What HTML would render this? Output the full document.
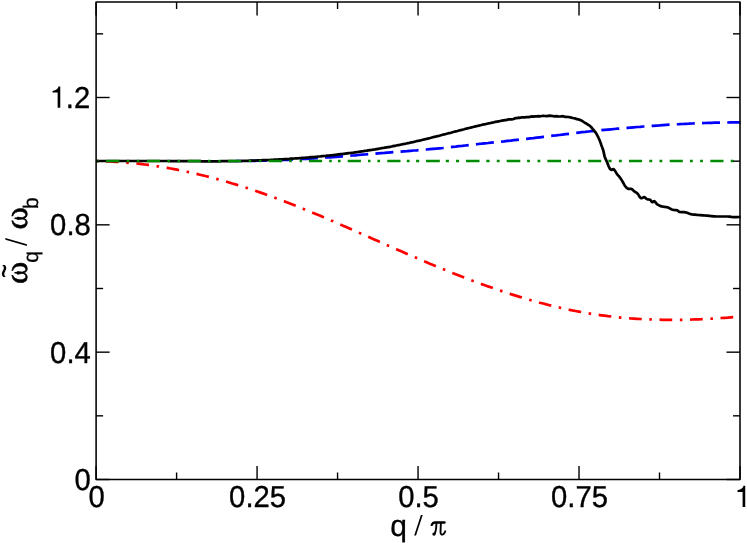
<!DOCTYPE html>
<html><head><meta charset="utf-8"><title>chart</title>
<style>
html,body{margin:0;padding:0;background:#fff;}
svg{display:block;will-change:transform;}
text{font-family:"Liberation Sans",sans-serif;font-size:30px;fill:#000;text-rendering:geometricPrecision;}
.sym{font-family:"Liberation Serif",serif;}
</style></head><body>
<svg width="747" height="543" viewBox="0 0 747 543">
<rect width="747" height="543" fill="#fff"/>
<defs><clipPath id="cb"><rect x="236" y="0" width="520" height="543"/></clipPath></defs>
<g fill="none" stroke-linejoin="round">
<path d="M96.3 161.2 L99.5 161.2 L102.8 161.3 L106.0 161.4 L109.3 161.5 L112.5 161.6 L115.7 161.8 L119.0 162.0 L122.2 162.2 L125.4 162.5 L128.7 162.8 L131.9 163.1 L135.2 163.4 L138.4 163.7 L141.6 164.1 L144.9 164.5 L148.1 164.9 L151.3 165.4 L154.6 165.8 L157.8 166.3 L161.1 166.8 L164.3 167.4 L167.5 167.9 L170.8 168.5 L174.0 169.1 L177.3 169.7 L180.5 170.4 L183.7 171.0 L187.0 171.7 L190.2 172.4 L193.4 173.1 L196.7 173.9 L199.9 174.7 L203.2 175.5 L206.4 176.3 L209.6 177.1 L212.9 177.9 L216.1 178.8 L219.4 179.7 L222.6 180.6 L225.8 181.5 L229.1 182.5 L232.3 183.5 L235.5 184.4 L238.8 185.4 L242.0 186.5 L245.3 187.5 L248.5 188.5 L251.7 189.6 L255.0 190.7 L258.2 191.8 L261.4 192.9 L264.7 194.1 L267.9 195.2 L271.2 196.4 L274.4 197.6 L277.6 198.8 L280.9 200.0 L284.1 201.2 L287.4 202.5 L290.6 203.7 L293.8 205.0 L297.1 206.3 L300.3 207.6 L303.5 208.9 L306.8 210.2 L310.0 211.6 L313.3 212.9 L316.5 214.3 L319.7 215.6 L323.0 217.0 L326.2 218.4 L329.4 219.8 L332.7 221.1 L335.9 222.5 L339.2 223.9 L342.4 225.4 L345.6 226.8 L348.9 228.2 L352.1 229.6 L355.4 231.0 L358.6 232.5 L361.8 233.9 L365.1 235.3 L368.3 236.8 L371.5 238.2 L374.8 239.7 L378.0 241.1 L381.3 242.5 L384.5 244.0 L387.7 245.4 L391.0 246.8 L394.2 248.3 L397.5 249.7 L400.7 251.1 L403.9 252.5 L407.2 253.9 L410.4 255.3 L413.6 256.7 L416.9 258.1 L420.1 259.5 L423.4 260.9 L426.6 262.3 L429.8 263.7 L433.1 265.0 L436.3 266.4 L439.5 267.7 L442.8 269.0 L446.0 270.3 L449.3 271.6 L452.5 272.9 L455.7 274.2 L459.0 275.5 L462.2 276.8 L465.5 278.0 L468.7 279.3 L471.9 280.5 L475.2 281.7 L478.4 282.9 L481.6 284.1 L484.9 285.2 L488.1 286.4 L491.4 287.5 L494.6 288.7 L497.8 289.8 L501.1 290.9 L504.3 292.0 L507.6 293.0 L510.8 294.1 L514.0 295.1 L517.3 296.1 L520.5 297.1 L523.7 298.1 L527.0 299.0 L530.2 300.0 L533.5 300.9 L536.7 301.8 L539.9 302.7 L543.2 303.5 L546.4 304.4 L549.6 305.2 L552.9 306.0 L556.1 306.8 L559.4 307.5 L562.6 308.3 L565.8 309.0 L569.1 309.7 L572.3 310.4 L575.6 311.0 L578.8 311.6 L582.0 312.2 L585.3 312.8 L588.5 313.4 L591.7 313.9 L595.0 314.4 L598.2 314.9 L601.5 315.3 L604.7 315.7 L607.9 316.2 L611.2 316.5 L614.4 316.9 L617.6 317.2 L620.9 317.6 L624.1 317.8 L627.4 318.1 L630.6 318.4 L633.8 318.6 L637.1 318.8 L640.3 319.0 L643.6 319.2 L646.8 319.3 L650.0 319.4 L653.3 319.6 L656.5 319.7 L659.7 319.7 L663.0 319.8 L666.2 319.8 L669.5 319.8 L672.7 319.8 L675.9 319.8 L679.2 319.8 L682.4 319.8 L685.7 319.7 L688.9 319.6 L692.1 319.5 L695.4 319.4 L698.6 319.3 L701.8 319.2 L705.1 319.0 L708.3 318.8 L711.6 318.7 L714.8 318.5 L718.0 318.3 L721.3 318.0 L724.5 317.8 L727.7 317.6 L731.0 317.3 L734.2 317.1 L737.5 316.8 L740.7 316.5" stroke="#ff0000" stroke-width="2.7" stroke-dasharray="2.544 7.632 12.72 7.632" stroke-dashoffset="0.54"/>
<path d="M96.3 161.0 L99.5 161.0 L102.8 161.0 L106.0 161.0 L109.3 161.0 L112.5 161.0 L115.7 161.0 L119.0 161.0 L122.2 161.0 L125.4 161.0 L128.7 161.0 L131.9 161.0 L135.2 161.0 L138.4 161.0 L141.6 161.0 L144.9 161.0 L148.1 161.0 L151.3 161.0 L154.6 161.0 L157.8 161.0 L161.1 161.0 L164.3 161.0 L167.5 161.0 L170.8 161.0 L174.0 161.0 L177.2 161.0 L180.5 161.0 L183.7 161.0 L187.0 161.0 L190.2 161.0 L193.4 161.0 L196.7 161.0 L199.9 161.0 L203.1 161.0 L206.4 161.0 L209.6 161.0 L212.9 161.0 L216.1 161.1 L219.3 161.1 L222.6 161.1 L225.8 161.0 L229.0 161.0 L232.3 161.0 L235.5 161.0 L238.8 161.0 L242.0 161.0 L245.2 160.9 L248.5 160.9 L251.7 160.8 L254.9 160.8 L258.2 160.7 L261.4 160.7 L264.7 160.6 L267.9 160.5 L271.1 160.4 L274.4 160.3 L277.6 160.2 L280.8 160.1 L284.1 159.9 L287.3 159.8 L290.6 159.7 L293.8 159.5 L297.0 159.3 L300.3 159.2 L303.5 159.0 L306.7 158.8 L310.0 158.6 L313.2 158.4 L316.5 158.2 L319.7 158.0 L322.9 157.8 L326.2 157.5 L329.4 157.3 L332.7 157.1 L335.9 156.8 L339.1 156.6 L342.4 156.3 L345.6 156.0 L348.8 155.8 L352.1 155.5 L355.3 155.3 L358.6 155.0 L361.8 154.7 L365.0 154.5 L368.3 154.2 L371.5 153.9 L374.7 153.7 L378.0 153.4 L381.2 153.1 L384.5 152.9 L387.7 152.6 L390.9 152.3 L394.2 152.1 L397.4 151.8 L400.6 151.6 L403.9 151.3 L407.1 151.1 L410.4 150.8 L413.6 150.5 L416.8 150.3 L420.1 150.0 L423.3 149.7 L426.5 149.5 L429.8 149.2 L433.0 148.9 L436.3 148.6 L439.5 148.3 L442.7 148.0 L446.0 147.6 L449.2 147.3 L452.4 146.9 L455.7 146.6 L458.9 146.2 L462.2 145.9 L465.4 145.5 L468.6 145.1 L471.9 144.7 L475.1 144.4 L478.3 144.0 L481.6 143.7 L484.8 143.3 L488.1 143.0 L491.3 142.6 L494.5 142.3 L497.8 142.0 L501.0 141.6 L504.2 141.3 L507.5 140.9 L510.7 140.6 L514.0 140.2 L517.2 139.8 L520.4 139.5 L523.7 139.1 L526.9 138.8 L530.2 138.4 L533.4 138.1 L536.6 137.7 L539.9 137.3 L543.1 136.9 L546.3 136.5 L549.6 136.1 L552.8 135.7 L556.1 135.4 L559.3 135.0 L562.5 134.6 L565.8 134.2 L569.0 133.8 L572.2 133.4 L575.5 133.0 L578.7 132.6 L582.0 132.2 L585.2 131.9 L588.4 131.5 L591.7 131.2 L594.9 130.9 L598.1 130.5 L601.4 130.2 L604.6 129.9 L607.9 129.6 L611.1 129.3 L614.3 129.0 L617.6 128.7 L620.8 128.4 L624.0 128.1 L627.3 127.9 L630.5 127.6 L633.8 127.3 L637.0 127.0 L640.2 126.8 L643.5 126.5 L646.7 126.3 L649.9 126.0 L653.2 125.8 L656.4 125.6 L659.7 125.4 L662.9 125.1 L666.1 124.9 L669.4 124.7 L672.6 124.5 L675.8 124.3 L679.1 124.2 L682.3 124.0 L685.6 123.8 L688.8 123.7 L692.0 123.5 L695.3 123.4 L698.5 123.2 L701.7 123.1 L705.0 123.0 L708.2 122.9 L711.5 122.8 L714.7 122.7 L717.9 122.6 L721.2 122.6 L724.4 122.5 L727.6 122.5 L730.9 122.4 L734.1 122.4 L737.4 122.4 L740.6 122.4" stroke="#0000ff" stroke-width="2.7" clip-path="url(#cb)" stroke-dasharray="18.0 7.24" stroke-dashoffset="23.5"/>
<path d="M96.3 161.0 L97.9 161.0 L99.6 161.0 L101.2 161.0 L102.9 161.0 L104.5 161.0 L106.2 161.0 L107.8 161.0 L109.5 161.0 L111.1 161.0 L112.8 161.0 L114.4 161.0 L116.1 161.0 L117.7 161.0 L119.4 161.0 L121.0 161.0 L122.7 161.0 L124.3 161.0 L126.0 161.0 L127.6 161.0 L129.3 161.0 L130.9 161.0 L132.6 161.0 L134.2 161.0 L135.9 161.0 L137.5 161.0 L139.2 161.0 L140.8 161.0 L142.5 161.0 L144.1 161.0 L145.8 161.0 L147.4 161.0 L149.1 161.0 L150.7 161.0 L152.4 161.0 L154.0 161.0 L155.7 161.0 L157.3 161.0 L159.0 161.0 L160.6 161.0 L162.3 161.0 L163.9 161.0 L165.6 161.0 L167.2 161.0 L168.9 161.1 L170.5 161.1 L172.2 161.1 L173.8 161.1 L175.5 161.1 L177.1 161.1 L178.8 161.1 L180.4 161.1 L182.1 161.1 L183.7 161.2 L185.4 161.2 L187.0 161.2 L188.7 161.2 L190.3 161.2 L192.0 161.2 L193.6 161.2 L195.2 161.2 L196.9 161.2 L198.5 161.2 L200.2 161.2 L201.8 161.3 L203.5 161.3 L205.1 161.3 L206.8 161.3 L208.4 161.3 L210.1 161.3 L211.7 161.3 L213.4 161.3 L215.0 161.3 L216.7 161.3 L218.3 161.3 L220.0 161.3 L221.6 161.2 L223.3 161.2 L224.9 161.2 L226.6 161.2 L228.2 161.2 L229.9 161.2 L231.5 161.1 L233.2 161.1 L234.8 161.1 L236.5 161.1 L238.1 161.0 L239.8 161.0 L241.4 161.0 L243.1 160.9 L244.7 160.9 L246.4 160.8 L248.0 160.8 L249.7 160.7 L251.3 160.7 L253.0 160.6 L254.6 160.6 L256.3 160.5 L257.9 160.4 L259.6 160.4 L261.2 160.3 L262.9 160.2 L264.5 160.2 L266.2 160.1 L267.8 160.0 L269.5 160.0 L271.1 159.9 L272.8 159.8 L274.4 159.7 L276.1 159.6 L277.7 159.5 L279.4 159.4 L281.0 159.4 L282.7 159.3 L284.3 159.2 L286.0 159.1 L287.6 159.0 L289.3 158.9 L290.9 158.7 L292.6 158.6 L294.2 158.5 L295.8 158.4 L297.5 158.3 L299.1 158.2 L300.8 158.0 L302.4 157.9 L304.1 157.8 L305.7 157.7 L307.4 157.5 L309.0 157.4 L310.7 157.2 L312.3 157.1 L314.0 157.0 L315.6 156.8 L317.3 156.7 L318.9 156.5 L320.6 156.4 L322.2 156.2 L323.9 156.0 L325.5 155.9 L327.2 155.7 L328.8 155.5 L330.5 155.3 L332.1 155.2 L333.8 155.0 L335.4 154.8 L337.1 154.6 L338.7 154.4 L340.4 154.2 L342.0 154.0 L343.7 153.8 L345.3 153.6 L347.0 153.4 L348.6 153.2 L350.3 153.0 L351.9 152.8 L353.6 152.6 L355.2 152.3 L356.9 152.1 L358.5 151.9 L360.2 151.6 L361.8 151.4 L363.5 151.2 L365.1 150.9 L366.8 150.7 L368.4 150.4 L370.1 150.1 L371.7 149.9 L373.4 149.6 L375.0 149.4 L376.7 149.1 L378.3 148.8 L380.0 148.5 L381.6 148.2 L383.3 148.0 L384.9 147.7 L386.6 147.4 L388.2 147.1 L389.9 146.8 L391.5 146.5 L393.1 146.1 L394.8 145.8 L396.4 145.5 L398.1 145.2 L399.7 144.9 L401.4 144.5 L403.0 144.2 L404.7 143.8 L406.3 143.5 L408.0 143.1 L409.6 142.8 L411.3 142.4 L412.9 142.1 L414.6 141.7 L416.2 141.3 L417.9 140.9 L419.5 140.6 L421.2 140.2 L422.8 139.8 L424.5 139.4 L426.1 139.0 L427.8 138.6 L429.4 138.2 L431.1 137.8 L432.7 137.3 L434.4 136.9 L436.0 136.5 L437.7 136.1 L439.3 135.7 L441.0 135.2 L442.6 134.8 L444.3 134.4 L445.9 134.0 L447.6 133.5 L449.2 133.1 L450.9 132.7 L452.5 132.2 L454.2 131.8 L455.8 131.4 L457.5 131.0 L459.1 130.5 L460.8 130.1 L462.4 129.7 L464.1 129.3 L465.7 128.8 L467.4 128.4 L469.0 128.0 L470.7 127.6 L472.3 127.2 L474.0 126.8 L475.6 126.4 L477.3 126.0 L478.9 125.6 L480.6 125.2 L482.2 124.8 L483.9 124.4 L485.5 124.1 L487.2 123.7 L488.8 123.3 L490.5 123.0 L492.1 122.6 L493.7 122.3 L495.4 121.9 L497.0 121.6 L498.7 121.3 L500.3 121.0 L502.0 120.7 L503.6 120.4 L505.3 120.1 L506.9 119.9 L508.6 119.4 L510.2 119.3 L511.9 119.3 L513.5 119.0 L515.2 118.2 L516.8 118.1 L518.5 117.7 L520.1 117.8 L521.8 117.3 L523.4 117.4 L525.1 117.4 L526.7 117.0 L528.4 117.1 L530.0 116.9 L531.7 116.3 L533.3 116.6 L535.0 116.3 L536.6 116.3 L538.3 116.1 L539.9 116.3 L541.6 116.0 L543.2 115.8 L544.9 116.0 L546.5 116.1 L548.2 115.8 L549.8 115.7 L551.5 115.8 L553.1 116.2 L554.8 116.3 L556.4 116.2 L558.1 116.4 L559.7 116.5 L561.4 116.3 L563.0 116.2 L564.7 116.8 L566.3 116.9 L568.0 117.0 L569.6 117.2 L571.3 117.6 L572.9 118.0 L574.6 118.3 L575.2 118.4 L575.8 118.7 L576.5 119.2 L577.1 119.2 L577.8 119.2 L578.5 119.4 L579.1 119.7 L579.8 119.8 L580.4 120.0 L581.1 120.5 L581.7 120.5 L582.4 121.1 L583.0 121.4 L583.7 122.0 L584.3 122.4 L585.0 122.8 L585.6 123.2 L586.3 123.4 L587.0 124.1 L587.6 124.3 L588.3 124.8 L588.9 125.2 L589.6 125.7 L590.2 126.2 L590.9 126.8 L591.5 127.5 L592.2 128.3 L592.8 129.1 L593.5 129.8 L594.1 130.6 L594.8 131.5 L595.5 132.3 L596.1 133.3 L596.8 134.4 L597.4 135.6 L598.1 136.9 L598.7 138.3 L599.4 139.8 L600.0 141.4 L600.7 143.1 L601.3 145.0 L602.0 146.9 L602.6 148.6 L603.3 150.4 L604.0 153.6 L604.6 156.4 L605.3 158.2 L605.9 159.7 L606.6 161.1 L607.2 162.5 L607.9 164.3 L608.5 166.0 L609.2 167.4 L609.8 168.6 L610.5 169.4 L611.1 169.7 L611.8 169.8 L612.5 169.4 L613.1 169.0 L613.8 169.3 L614.4 170.0 L615.1 170.8 L615.7 171.9 L616.4 173.1 L617.0 174.1 L617.7 174.9 L618.3 175.6 L619.0 176.3 L619.6 177.1 L620.3 178.0 L620.9 178.9 L621.6 179.9 L622.3 181.1 L622.9 182.3 L623.6 183.5 L624.2 184.6 L624.9 185.7 L625.5 186.6 L626.2 187.3 L626.8 188.0 L627.5 188.5 L628.1 188.8 L628.8 188.8 L629.4 188.8 L630.1 188.8 L630.8 188.8 L631.4 188.9 L632.1 189.2 L632.7 189.9 L633.4 190.5 L634.0 191.1 L634.7 191.6 L635.3 192.0 L636.0 192.4 L636.6 192.8 L637.3 193.3 L637.9 194.1 L638.6 195.1 L639.3 196.2 L639.9 197.2 L640.6 197.9 L641.2 198.2 L641.9 198.1 L642.5 197.8 L643.2 197.5 L643.8 197.2 L644.5 197.2 L645.1 197.6 L645.8 198.2 L646.4 198.8 L647.1 199.2 L647.8 199.3 L648.4 199.4 L649.1 199.5 L649.7 199.7 L650.4 199.9 L651.0 200.8 L651.7 201.8 L652.3 202.2 L653.0 201.9 L653.6 201.4 L654.3 201.2 L654.9 201.6 L655.6 202.4 L656.3 203.3 L656.9 204.1 L657.6 204.5 L658.2 204.9 L658.9 205.3 L659.5 205.6 L660.2 205.9 L660.8 206.2 L661.5 206.3 L662.1 206.5 L662.8 206.6 L663.4 206.7 L664.1 206.8 L664.8 206.9 L665.4 207.0 L666.1 207.1 L666.7 207.2 L667.4 207.3 L668.0 207.5 L668.7 207.8 L669.3 208.1 L670.0 208.5 L670.6 208.8 L671.3 209.2 L671.9 209.5 L672.6 209.7 L673.3 209.9 L673.9 210.0 L674.6 210.0 L675.2 210.1 L675.9 210.1 L676.5 210.2 L677.2 210.3 L677.8 210.6 L678.5 211.3 L679.1 211.9 L679.8 212.0 L680.4 212.0 L681.1 212.1 L681.8 212.1 L682.4 212.1 L683.1 212.1 L683.7 212.2 L684.4 212.2 L685.0 212.3 L685.7 212.3 L686.3 212.5 L687.0 212.7 L687.6 212.9 L688.3 213.2 L688.9 213.5 L689.6 213.8 L690.3 214.0 L690.9 214.2 L691.6 214.3 L692.2 214.4 L692.9 214.5 L693.5 214.6 L694.2 214.6 L694.8 214.7 L695.5 214.7 L696.1 214.8 L696.8 214.8 L697.4 214.9 L698.1 215.0 L698.8 215.0 L699.4 215.1 L700.1 215.1 L700.7 215.2 L701.4 215.2 L702.0 215.3 L702.7 215.3 L703.3 215.4 L704.0 215.4 L704.6 215.5 L705.3 215.5 L705.9 215.6 L706.6 215.6 L707.3 215.7 L707.9 215.7 L708.6 215.8 L709.2 215.9 L709.9 215.9 L710.5 216.0 L711.2 216.1 L711.8 216.1 L712.5 216.2 L713.1 216.3 L713.8 216.3 L714.4 216.4 L715.1 216.4 L715.8 216.5 L716.4 216.5 L717.1 216.5 L717.7 216.5 L718.4 216.5 L719.0 216.5 L719.7 216.5 L720.3 216.5 L721.0 216.5 L721.6 216.5 L722.3 216.5 L722.9 216.5 L723.6 216.5 L724.3 216.5 L724.9 216.5 L725.6 216.5 L726.2 216.5 L726.9 216.5 L727.5 216.5 L728.2 216.5 L728.8 216.6 L729.5 216.7 L730.1 216.7 L730.8 216.8 L731.4 216.9 L732.1 217.0 L732.8 217.1 L733.4 217.1 L734.1 217.1 L734.7 217.1 L735.4 217.1 L736.0 217.1 L736.7 217.1 L737.3 217.1 L738.0 217.0 L738.6 217.0 L739.3 217.0 L739.9 217.0 L740.6 216.9" stroke="#000" stroke-width="2.7"/>
<path d="M96.40 161.00H98.90M106.00 161.00H119.30M126.70 161.00H129.30M136.80 161.00H139.30M146.70 161.00H160.00M167.40 161.00H170.00M177.50 161.00H180.00M187.65 161.00H200.90M208.00 161.00H210.50M218.20 161.00H220.70M227.80 161.00H241.10M248.70 161.00H251.20M259.10 161.00H261.40M268.70 161.00H282.00M289.30 161.00H291.80M299.60 161.00H301.90M308.90 161.00H322.10M329.20 161.00H331.80M338.00 161.00H340.60M347.70 161.00H360.90M368.00 161.00H370.50M377.40 161.00H380.00M387.30 161.00H400.50M406.80 161.00H409.60M416.10 161.00H419.20M426.00 161.00H439.80M445.80 161.00H448.90M456.00 161.00H459.10M466.00 161.00H479.50M486.30 161.00H489.60M496.80 161.00H499.60M506.70 161.00H520.30M527.10 161.00H529.90M537.50 161.00H540.30M547.40 161.00H561.00M568.00 161.00H570.80M578.10 161.00H580.90M588.20 161.00H601.20M608.40 161.00H611.60M618.90 161.00H621.80M629.00 161.00H642.10M649.30 161.00H652.20M659.50 161.00H662.30M669.70 161.00H682.80M690.00 161.00H692.80M700.10 161.00H702.90M710.30 161.00H723.50M730.70 161.00H733.50" stroke="#008b00" stroke-width="2.6"/>
</g>
<g stroke="#000" stroke-width="1.4"><line x1="96.10" y1="479.50" x2="96.10" y2="466.00"/><line x1="96.10" y1="2.00" x2="96.10" y2="15.50"/><line x1="176.59" y1="479.50" x2="176.59" y2="472.50"/><line x1="176.59" y1="2.00" x2="176.59" y2="9.00"/><line x1="257.07" y1="479.50" x2="257.07" y2="466.00"/><line x1="257.07" y1="2.00" x2="257.07" y2="15.50"/><line x1="337.56" y1="479.50" x2="337.56" y2="472.50"/><line x1="337.56" y1="2.00" x2="337.56" y2="9.00"/><line x1="418.05" y1="479.50" x2="418.05" y2="466.00"/><line x1="418.05" y1="2.00" x2="418.05" y2="15.50"/><line x1="498.54" y1="479.50" x2="498.54" y2="472.50"/><line x1="498.54" y1="2.00" x2="498.54" y2="9.00"/><line x1="579.02" y1="479.50" x2="579.02" y2="466.00"/><line x1="579.02" y1="2.00" x2="579.02" y2="15.50"/><line x1="659.51" y1="479.50" x2="659.51" y2="472.50"/><line x1="659.51" y1="2.00" x2="659.51" y2="9.00"/><line x1="740.00" y1="479.50" x2="740.00" y2="466.00"/><line x1="740.00" y1="2.00" x2="740.00" y2="15.50"/><line x1="96.10" y1="479.50" x2="109.60" y2="479.50"/><line x1="740.00" y1="479.50" x2="726.50" y2="479.50"/><line x1="96.10" y1="415.83" x2="103.10" y2="415.83"/><line x1="740.00" y1="415.83" x2="733.00" y2="415.83"/><line x1="96.10" y1="352.17" x2="109.60" y2="352.17"/><line x1="740.00" y1="352.17" x2="726.50" y2="352.17"/><line x1="96.10" y1="288.50" x2="103.10" y2="288.50"/><line x1="740.00" y1="288.50" x2="733.00" y2="288.50"/><line x1="96.10" y1="224.83" x2="109.60" y2="224.83"/><line x1="740.00" y1="224.83" x2="726.50" y2="224.83"/><line x1="96.10" y1="161.17" x2="103.10" y2="161.17"/><line x1="740.00" y1="161.17" x2="733.00" y2="161.17"/><line x1="96.10" y1="97.50" x2="109.60" y2="97.50"/><line x1="740.00" y1="97.50" x2="726.50" y2="97.50"/><line x1="96.10" y1="33.83" x2="103.10" y2="33.83"/><line x1="740.00" y1="33.83" x2="733.00" y2="33.83"/></g>
<rect x="96.1" y="2.0" width="643.90" height="477.50" fill="none" stroke="#000" stroke-width="1.55" stroke-linejoin="round"/>
<g stroke="#000" stroke-width="0.35"><text transform="translate(96.60,507.30) scale(0.975,1.010)" text-anchor="middle">0</text><text transform="translate(257.57,507.30) scale(0.975,1.010)" text-anchor="middle">0.25</text><text transform="translate(418.55,507.30) scale(0.975,1.010)" text-anchor="middle">0.5</text><text transform="translate(579.52,507.30) scale(0.975,1.010)" text-anchor="middle">0.75</text><path d="M359 0L359 709L302 709C285 640 230 575 101 560L101 505L271 505L271 0Z" transform="translate(734.47,507.10) scale(0.03,-0.03)"/><text transform="translate(90.80,489.90) scale(0.975,1.010)" text-anchor="end">0</text><text transform="translate(90.80,362.57) scale(0.975,1.010)" text-anchor="end">0.4</text><text transform="translate(90.80,235.23) scale(0.975,1.010)" text-anchor="end">0.8</text><text transform="translate(65.78,107.90) scale(0.975,1.010)" text-anchor="start">.2</text><path d="M359 0L359 709L302 709C285 640 230 575 101 560L101 505L271 505L271 0Z" transform="translate(49.50,107.70) scale(0.03,-0.03)"/></g>
<g style="font-size:29px">
<text transform="translate(390.3,535.5)" stroke="#000" stroke-width="0.3">q</text>
<polygon points="414.2,535.6 416.0,535.6 422.7,515.0 420.9,515.0"/>
<g fill="none" stroke="#000" stroke-linecap="round" stroke-linejoin="round">
<path d="M431.7 524.9C432.3 523.6 433.1 522.5 434.6 522.5L444.6 522.5" stroke-width="2.3"/>
<path d="M436.4 523.5C436.3 528 435.9 531 434.9 533.2" stroke-width="1.9"/>
<path d="M440.85 523.5L440.5 532C440.4 534.9 442.4 535.2 443.7 533.9C444.5 533.1 445 532.2 445.3 531.3" stroke-width="1.9"/>
</g>
<circle cx="434.0" cy="534.1" r="1.7"/>
</g>
<g transform="translate(26.4,281.5) rotate(-90)">
<text class="sym" transform="translate(-2.6,0.45) scale(1.055,1.015)" style="font-size:32px" stroke="#000" stroke-width="0.5">ω</text>
<text transform="translate(3.6,-10.7) scale(0.8,1.2)">~</text>
<text x="18.65" y="11.6" style="font-size:21px" stroke="#000" stroke-width="0.25">q</text>
<polygon points="35.5,0.5 37.3,0.5 43.5,-21.0 41.7,-21.0"/>
<text class="sym" transform="translate(51.95,0.45) scale(1.055,1.015)" style="font-size:32px" stroke="#000" stroke-width="0.5">ω</text>
<text x="72.55" y="11.3" style="font-size:21px" stroke="#000" stroke-width="0.25">b</text>
</g>
<ellipse cx="17.6" cy="272.8" rx="3.3" ry="1.0"/><ellipse cx="17.6" cy="218.3" rx="3.3" ry="1.0"/>
</svg>
</body></html>
